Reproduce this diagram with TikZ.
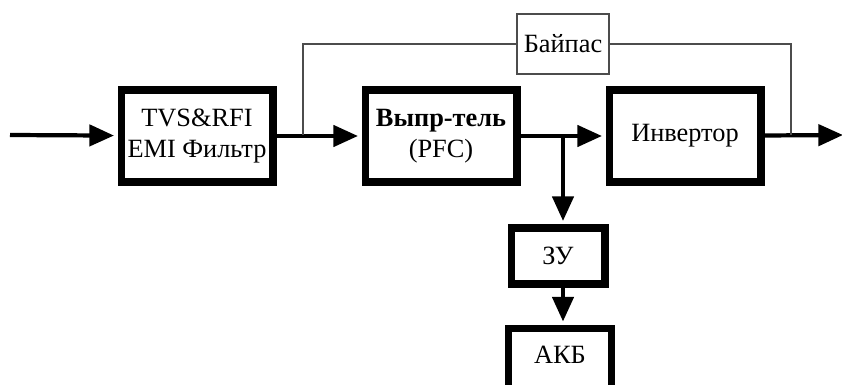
\documentclass[tikz,border=0pt]{standalone}
\usepackage{fontspec}
\setmainfont{Liberation Serif}
\usetikzlibrary{arrows.meta}

\begin{document}
\begin{tikzpicture}[x=0.02cm,y=-0.02cm,
    block/.style={draw,line width=4pt,minimum width=3.04cm,minimum height=1.84cm,
      align=center,font=\fontsize{15}{18}\selectfont},
    smallblock/.style={block,minimum width=1.88cm,minimum height=1.12cm},
    bypassbox/.style={draw=black!70,line width=0.9pt,minimum width=1.84cm,
      minimum height=1.2cm,font=\fontsize{15}{18}\selectfont},
    flow/.style={line width=2.4pt,-{Triangle[length=14pt,width=12pt]},shorten >=2pt},
    thin line/.style={draw=black!70,line width=0.9pt}]
    \useasboundingbox (0,0) rectangle (842,385);
    \clip (0,0) rectangle (842,385);

    % main chain
    \node[block] (filter) at (197,136) {TVS\&RFI\\EMI Фильтр};
    \node[block] (rect) at (441,136) {\textbf{Выпр-тель}\\(PFC)};
    \node[block] (inv) at (685,136) {Инвертор};
    \node[bypassbox] (bypass) at (563,44) {Байпас};
    \node[smallblock] (charger) at (558,256) {ЗУ};
    \node[smallblock,minimum width=2.06cm,minimum height=1.34cm,text depth=8pt] (battery) at (560,362) {АКБ};

    \coordinate (in) at (10,135);
    \coordinate (out) at (843,135);
    \coordinate (split) at (303,135);
    \coordinate (join) at (791,135);
    \coordinate (tap) at (563,135);

    \draw[flow] (in) -- (filter);
    \draw[flow] (filter) -- (rect);
    \draw[flow] (rect) -- (inv);
    \draw[flow,shorten >=0pt] (inv) -- (out);
    \draw[flow] (tap) -- (tap |- charger.north);
    \draw[flow] (charger.south -| tap) -- (tap |- battery.north);

    % bypass
    \draw[thin line] (split) |- (bypass.west);
    \draw[thin line] (bypass.east) -| (join);
\end{tikzpicture}
\end{document}
